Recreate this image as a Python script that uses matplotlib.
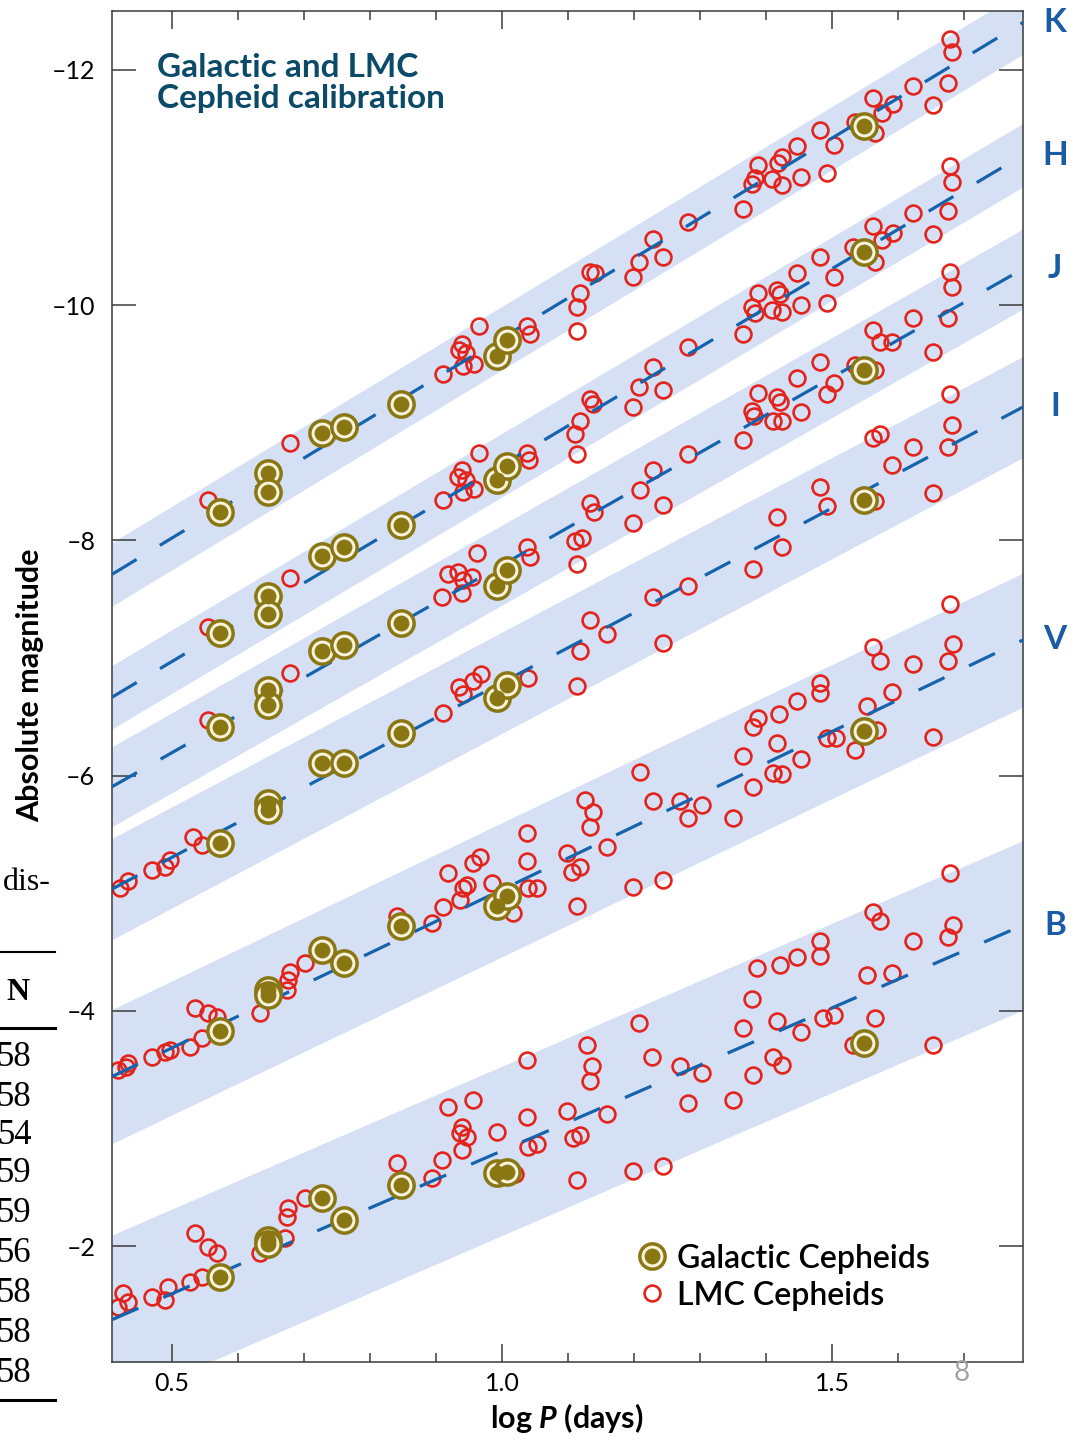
import numpy as np
import matplotlib
matplotlib.use('Agg')
import matplotlib.pyplot as plt
from matplotlib.lines import Line2D

plt.rcParams['font.family'] = ['Lato', 'DejaVu Sans']
plt.rcParams['mathtext.fontset'] = 'custom'
plt.rcParams['mathtext.rm'] = 'Lato:bold'
plt.rcParams['mathtext.it'] = 'Lato:italic:bold'

# ---- data -------------------------------------------------------------
band_names = ['K', 'H', 'J', 'I', 'V', 'B']
band_zero = [-9.72, -8.64, -7.79, -6.79, -5.03, -2.81]   # fitted mag at log P = 1
band_slope = [-3.40, -3.34, -3.19, -2.97, -2.69, -2.43]
band_width = [0.27, 0.27, 0.34, 0.43, 0.57, 0.72]        # half width of shaded strip

gal_logp = [0.573, 0.645, 0.645, 0.727, 0.761, 0.847, 0.992, 1.008, 1.548]
gal_k = [-8.24, -8.57, -8.41, -8.91, -8.96, -9.16, -9.57, -9.70, -11.52]
gal_h = [-7.21, -7.53, -7.37, -7.87, -7.94, -8.13, -8.51, -8.63, -10.45]
gal_j = [-6.41, -6.73, -6.60, -7.06, -7.11, -7.30, -7.61, -7.75, -9.45]
gal_i = [-5.43, -5.77, -5.71, -6.11, -6.11, -6.36, -6.66, -6.77, -8.34]
gal_v = [-3.83, -4.18, -4.13, -4.52, -4.41, -4.72, -4.89, -4.98, -6.38]
gal_b = [-1.74, -2.05, -2.02, -2.41, -2.22, -2.52, -2.62, -2.63, -3.73]

lmc_k_logp = [0.555, 0.679, 0.911, 0.935, 0.939, 0.945, 0.941, 0.958, 0.965, 1.038, 1.042,
              1.114, 1.114, 1.118, 1.133, 1.141, 1.198, 1.208, 1.229, 1.244, 1.282, 1.365,
              1.379, 1.383, 1.388, 1.409, 1.418, 1.424, 1.424, 1.447, 1.452, 1.482, 1.492,
              1.502, 1.535, 1.562, 1.565, 1.576, 1.592, 1.623, 1.653, 1.676, 1.679, 1.682]
lmc_k = [-8.34, -8.83, -9.41, -9.62, -9.67, -9.59, -9.48, -9.50, -9.82, -9.82, -9.75,
         -9.98, -9.78, -10.10, -10.28, -10.27, -10.24, -10.37, -10.56, -10.41, -10.71, -10.82,
         -11.03, -11.08, -11.19, -11.07, -11.21, -11.26, -11.02, -11.35, -11.09, -11.49, -11.12,
         -11.36, -11.56, -11.76, -11.46, -11.63, -11.71, -11.86, -11.70, -11.89, -12.26, -12.15]

lmc_h_logp = [0.555, 0.679, 0.911, 0.933, 0.939, 0.945, 0.941, 0.958, 0.965, 1.038, 1.041,
              1.111, 1.114, 1.118, 1.133, 1.138, 1.198, 1.208, 1.229, 1.244, 1.282, 1.365,
              1.379, 1.383, 1.388, 1.409, 1.417, 1.421, 1.424, 1.447, 1.452, 1.482, 1.492,
              1.502, 1.532, 1.562, 1.565, 1.576, 1.592, 1.623, 1.653, 1.676, 1.679, 1.682]
lmc_h = [-7.26, -7.68, -8.34, -8.54, -8.60, -8.51, -8.41, -8.44, -8.74, -8.74, -8.68,
         -8.90, -8.73, -9.01, -9.20, -9.16, -9.13, -9.30, -9.47, -9.28, -9.64, -9.75,
         -9.98, -9.93, -10.10, -9.96, -10.13, -10.09, -9.94, -10.27, -10.00, -10.41, -10.02,
         -10.24, -10.49, -10.67, -10.37, -10.55, -10.61, -10.78, -10.60, -10.80, -11.18, -11.05]

lmc_j_logp = [0.555, 0.679, 0.909, 0.918, 0.933, 0.941, 0.939, 0.955, 0.962, 1.038, 1.042,
              1.111, 1.121, 1.114, 1.133, 1.139, 1.198, 1.209, 1.229, 1.244, 1.282, 1.365,
              1.379, 1.382, 1.388, 1.411, 1.417, 1.421, 1.424, 1.447, 1.452, 1.482, 1.492,
              1.502, 1.535, 1.562, 1.565, 1.573, 1.591, 1.623, 1.653, 1.676, 1.679, 1.682]
lmc_j = [-6.47, -6.87, -7.52, -7.71, -7.73, -7.66, -7.55, -7.69, -7.89, -7.94, -7.86,
         -7.99, -8.02, -7.80, -8.32, -8.24, -8.15, -8.43, -8.60, -8.30, -8.73, -8.85,
         -9.10, -9.06, -9.25, -9.01, -9.22, -9.18, -9.01, -9.38, -9.09, -9.52, -9.24,
         -9.34, -9.49, -9.79, -9.45, -9.69, -9.69, -9.89, -9.60, -9.89, -10.28, -10.15]

lmc_i_logp = [0.421, 0.433, 0.470, 0.489, 0.497, 0.532, 0.545,
              0.911, 0.935, 0.941, 0.956, 0.968,
              1.039, 1.114, 1.118, 1.133, 1.159,
              1.229, 1.244, 1.282, 1.380, 1.417, 1.424, 1.482, 1.492, 1.565, 1.653,
              1.562, 1.573, 1.591, 1.623, 1.676, 1.679, 1.682]
lmc_i = [-5.04, -5.10, -5.20, -5.22, -5.28, -5.48, -5.41,
         -6.53, -6.75, -6.69, -6.80, -6.86,
         -6.83, -6.76, -7.06, -7.32, -7.20,
         -7.52, -7.13, -7.61, -7.76, -8.20, -7.94, -8.45, -8.29, -8.33, -8.40,
         -8.87, -8.90, -8.64, -8.79, -8.79, -9.24, -8.98]

lmc_v_logp = [0.418, 0.430, 0.433, 0.470, 0.489, 0.497, 0.527, 0.545, 0.535, 0.555, 0.568,
              0.633, 0.674, 0.676, 0.679, 0.702, 0.841,
              0.894, 0.911, 0.918, 0.936, 0.941, 0.947, 0.956, 0.967,
              0.985, 1.017, 1.038, 1.038, 1.039, 1.053, 1.098, 1.106, 1.118, 1.114, 1.126,
              1.138, 1.133, 1.159,
              1.198, 1.209, 1.229, 1.244, 1.270, 1.282, 1.303, 1.350, 1.365, 1.380, 1.380,
              1.388, 1.411, 1.417, 1.420, 1.424, 1.447, 1.452, 1.482, 1.482, 1.492, 1.505,
              1.535, 1.553, 1.562, 1.568, 1.573, 1.591, 1.623, 1.653, 1.676, 1.679, 1.683]
lmc_v = [-3.50, -3.52, -3.56, -3.61, -3.65, -3.67, -3.69, -3.77, -4.02, -3.98, -3.95,
         -3.98, -4.18, -4.26, -4.33, -4.41, -4.81,
         -4.75, -4.88, -5.17, -4.94, -5.04, -5.07, -5.26, -5.31,
         -5.09, -4.83, -5.51, -5.27, -5.04, -5.04, -5.34, -5.18, -5.22, -4.89, -5.79,
         -5.69, -5.56, -5.39,
         -5.05, -6.03, -5.78, -5.11, -5.78, -5.64, -5.75, -5.64, -6.17, -6.41, -5.90,
         -6.49, -6.02, -6.28, -6.52, -6.01, -6.63, -6.14, -6.79, -6.70, -6.32, -6.32,
         -6.22, -6.59, -7.09, -6.39, -6.97, -6.71, -6.95, -6.33, -6.97, -7.46, -7.12]

lmc_b_logp = [0.418, 0.426, 0.433, 0.470, 0.489, 0.494, 0.527, 0.545, 0.535, 0.555, 0.568,
              0.633, 0.671, 0.674, 0.676, 0.702, 0.841,
              0.894, 0.909, 0.918, 0.936, 0.939, 0.947, 0.939, 0.956,
              0.992, 1.020, 1.038, 1.038, 1.039, 1.053, 1.098, 1.108, 1.118, 1.114, 1.129,
              1.136, 1.133, 1.159,
              1.198, 1.244, 1.208, 1.227, 1.270, 1.282, 1.303, 1.350, 1.365, 1.379, 1.380,
              1.386, 1.411, 1.417, 1.421, 1.424, 1.447, 1.452, 1.482, 1.482, 1.486, 1.502,
              1.532, 1.553, 1.562, 1.565, 1.573, 1.591, 1.623, 1.653, 1.676, 1.679, 1.683]
lmc_b = [-1.48, -1.60, -1.52, -1.57, -1.54, -1.65, -1.69, -1.74, -2.11, -1.99, -1.94,
         -1.94, -2.07, -2.25, -2.32, -2.41, -2.71,
         -2.58, -2.73, -3.18, -2.96, -3.01, -2.93, -2.82, -3.24,
         -2.97, -2.61, -3.58, -3.10, -2.84, -2.87, -3.15, -2.92, -2.94, -2.56, -3.71,
         -3.53, -3.40, -3.12,
         -2.64, -2.68, -3.90, -3.61, -3.53, -3.22, -3.47, -3.24, -3.85, -4.10, -3.45,
         -4.36, -3.61, -3.91, -4.39, -3.54, -4.46, -3.82, -4.59, -4.47, -3.94, -3.96,
         -3.71, -4.30, -4.84, -3.94, -4.76, -4.32, -4.59, -3.71, -4.63, -5.17, -4.73]

table_n = ['58', '58', '54', '59', '59', '56', '58', '58', '58']

# ---- styling ----------------------------------------------------------
W, H = 1076, 1440
band_fill = '#d5e0f4'
fit_col = '#1463ad'
lmc_col = '#e3241c'
gal_col = '#8a7613'
label_blue = '#1a5ba6'
title_col = '#0b4a68'
axis_col = '#3a3a3a'

fig = plt.figure(figsize=(W / 100, H / 100), dpi=100)
ax = fig.add_axes([112 / W, 1 - 1362 / H, 911 / W, 1351 / H])
xlim = (0.409, 1.789)
ax.set_xlim(*xlim)
ax.set_ylim(-1.014, -12.50)

xs = np.array(xlim)
gal_all = [gal_k, gal_h, gal_j, gal_i, gal_v, gal_b]
lmc_all = [(lmc_k_logp, lmc_k), (lmc_h_logp, lmc_h), (lmc_j_logp, lmc_j),
           (lmc_i_logp, lmc_i), (lmc_v_logp, lmc_v), (lmc_b_logp, lmc_b)]

lmc_style = dict(ls='none', marker='o', ms=11.4, mfc='none', mec=lmc_col, mew=1.9)
ring_style = dict(ls='none', marker='o', ms=18.2, mfc='#f7f3dc', mec=gal_col, mew=2.5)
dot_style = dict(ls='none', marker='o', ms=11.4, mfc=gal_col, mec='none')

for name, zp, sl, hw, gal, (lp, lm) in zip(band_names, band_zero, band_slope,
                                           band_width, gal_all, lmc_all):
    fit = zp + sl * (xs - 1.0)
    ax.fill_between(xs, fit - hw, fit + hw, color=band_fill, lw=0, zorder=1)
    ax.plot(xs, fit, color=fit_col, lw=2.3, ls=(0, (9, 8.5)), zorder=3,
            dash_capstyle='butt')
    ax.plot(lp, lm, zorder=2, **lmc_style)
    ax.plot(gal_logp, gal, zorder=4, **ring_style)
    ax.plot(gal_logp, gal, zorder=5, **dot_style)
    ax.text(1.035, fit[-1], name, transform=ax.get_yaxis_transform(),
            ha='center', va='center', fontsize=24, fontweight='bold',
            color=label_blue, clip_on=False)

# axes cosmetics
for sp in ax.spines.values():
    sp.set_color(axis_col)
    sp.set_linewidth(1.1)
ax.set_xticks([0.5, 1.0, 1.5])
ax.set_xticklabels(['0.5', '1.0', '1.5'])
ax.set_xticks(np.arange(0.5, 1.75, 0.1), minor=True)
ax.set_yticks([-12, -10, -8, -6, -4, -2])
ax.set_yticklabels(['\u201312', '\u201310', '\u20138', '\u20136', '\u20134', '\u20132'])
ax.tick_params(axis='x', which='major', direction='in', length=13, width=1.1,
               top=True, color=axis_col, labelsize=18, pad=7)
ax.tick_params(axis='x', which='minor', direction='in', length=6.5, width=1.1,
               top=True, color=axis_col)
ax.tick_params(axis='y', which='major', direction='in', length=17, width=1.1,
               right=True, color=axis_col, labelsize=18, pad=12)

ax.text(0.049, 0.969, 'Galactic and LMC\nCepheid calibration', transform=ax.transAxes,
        ha='left', va='top', fontsize=24, fontweight='bold', color=title_col,
        linespacing=1.08)

# legend
gal_ring = Line2D([], [], **ring_style)
gal_dot = Line2D([], [], **dot_style)
lmc_mark = Line2D([], [], **lmc_style)
ax.legend([(gal_ring, gal_dot), lmc_mark], ['Galactic Cepheids', 'LMC Cepheids'],
          loc='lower left', bbox_to_anchor=(0.578, 0.038), frameon=False,
          prop={'size': 23, 'weight': 'semibold'}, handlelength=0.85,
          handletextpad=0.35, labelspacing=0.22, borderpad=0, borderaxespad=0)

# axis labels
fig.text(30 / W, 1 - 685 / H, 'Absolute magnitude', rotation=90, ha='center', va='center',
         fontsize=22, fontweight='bold')
fig.text(567 / W, 1 - 1418 / H, r'log $P$ (days)', ha='center', va='center',
         fontsize=22, fontweight='bold')

# page fragments at the edges
fig.text(962 / W, 1 - 1373 / H, '8', ha='center', va='center', fontsize=20,
         color='#a3a3a3')
serif = ['Liberation Serif', 'DejaVu Serif']
fig.text(3 / W, 1 - 882 / H, 'dis-', ha='left', va='center', fontsize=23, family=serif)
fig.text(18 / W, 1 - 993 / H, 'N', ha='center', va='center', fontsize=23,
         fontweight='bold', family=serif)
row_y = [1057, 1097, 1136, 1174, 1213, 1254, 1294, 1334, 1373]
for yy, nn in zip(row_y, table_n):
    fig.text(32 / W, 1 - yy / H, nn, ha='right', va='center', fontsize=25, family=serif)
for yy, lw in [(952, 1.5), (1028, 2.2), (1400, 2.2)]:
    fig.add_artist(Line2D([0, 55 / W], [1 - yy / H, 1 - yy / H], color='black', lw=lw))

fig.savefig('out.png', dpi=100)
